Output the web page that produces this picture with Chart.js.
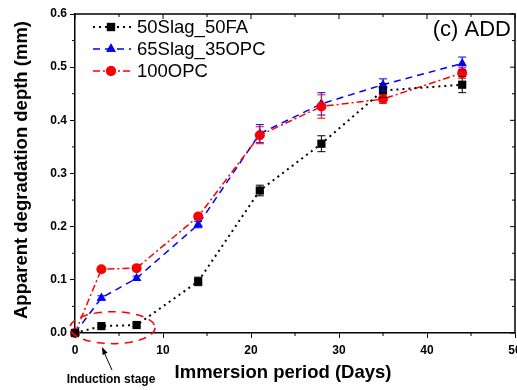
<!DOCTYPE html>
<html>
<head>
<meta charset="utf-8">
<script src="https://cdn.jsdelivr.net/npm/chart.js@4/dist/chart.umd.min.js"></script>
<style>
  body { margin: 0; background: #fff; }
  canvas { display: block; }
</style>
</head>
<body>
<canvas id="depth" width="517" height="390"></canvas>
<script>
const FONT = 'Arial, "Liberation Sans", sans-serif';

// immersion days and degradation depths (mm)
const days = [0, 3, 7, 14, 21, 28, 35, 44];
const slagFA = [0, 0.013, 0.015, 0.097, 0.268, 0.356, 0.456, 0.467];
const slagFAErr = [0, 0.003, 0.003, 0.008, 0.010, 0.015, 0.013, 0.015];
const slagOPC = [0, 0.066, 0.103, 0.204, 0.375, 0.431, 0.467, 0.507];
const slagOPCErr = [0, 0.004, 0.004, 0.006, 0.017, 0.021, 0.011, 0.012];
const opc = [0, 0.120, 0.122, 0.219, 0.372, 0.426, 0.440, 0.489];
const opcErr = [0, 0.003, 0.003, 0.005, 0.016, 0.022, 0.008, 0.010];

const seriesNames = ['50Slag_50FA', '65Slag_35OPC', '100OPC'];
const xTicks = [0, 10, 20, 30, 40, 50];
const yTicks = [0, 0.1, 0.2, 0.3, 0.4, 0.5, 0.6];

const pts = (ys) => days.map((d, i) => ({x: d, y: ys[i]}));

const series = [
  {label: seriesNames[0], ys: slagFA, err: slagFAErr, color: '#000000', style: 'rect', radius: 5.8, dash: [2, 4], width: 2, order: 0},
  {label: seriesNames[1], ys: slagOPC, err: slagOPCErr, color: '#0000ff', style: 'triangle', radius: 5.5, dash: [7, 5], width: 1.5, order: 2},
  {label: seriesNames[2], ys: opc, err: opcErr, color: '#ff0000', style: 'circle', radius: 5, dash: [7, 3, 2, 3], width: 1.5, order: 1}
];

const extras = {
  id: 'extras',
  afterDraw(chart) {
    const ctx = chart.ctx;
    const a = chart.chartArea;
    const xs = chart.scales.x, ys = chart.scales.y;
    ctx.save();

    // error bars
    series.forEach(s => {
      ctx.strokeStyle = s.color;
      ctx.lineWidth = 1;
      days.forEach((d, i) => {
        if (!s.err[i]) return;
        const px = xs.getPixelForValue(d);
        const t = ys.getPixelForValue(s.ys[i] + s.err[i]);
        const b = ys.getPixelForValue(s.ys[i] - s.err[i]);
        ctx.beginPath();
        ctx.moveTo(px, t); ctx.lineTo(px, b);
        ctx.moveTo(px - 4, t); ctx.lineTo(px + 4, t);
        ctx.moveTo(px - 4, b); ctx.lineTo(px + 4, b);
        ctx.stroke();
      });
    });

    // frame top/right
    ctx.strokeStyle = '#000';
    ctx.lineWidth = 1.5;
    ctx.beginPath();
    ctx.moveTo(a.left, a.top); ctx.lineTo(a.right, a.top); ctx.lineTo(a.right, a.bottom);
    ctx.stroke();

    // ticks on top/right (inward) + minor ticks
    ctx.lineWidth = 1;
    ctx.beginPath();
    for (let v = 0; v <= 50; v += 5) {
      const px = xs.getPixelForValue(v);
      const len = v % 10 === 0 ? 5 : 3;
      ctx.moveTo(px, a.top); ctx.lineTo(px, a.top + len);
      if (v % 10 !== 0) { ctx.moveTo(px, a.bottom); ctx.lineTo(px, a.bottom + 3); }
    }
    for (let k = 0; k <= 12; k++) {
      const v = k * 0.05;
      const py = ys.getPixelForValue(v);
      const len = k % 2 === 0 ? 5 : 3;
      ctx.moveTo(a.right, py); ctx.lineTo(a.right - len, py);
      if (k % 2 !== 0) { ctx.moveTo(a.left, py); ctx.lineTo(a.left - 3, py); }
    }
    ctx.stroke();

    // legend
    ctx.textBaseline = 'middle';
    ctx.font = '18.5px ' + FONT;
    series.forEach((s, i) => {
      const y = 27 + i * 22;
      ctx.strokeStyle = s.color;
      ctx.lineWidth = s.width;
      ctx.setLineDash(s.dash);
      ctx.beginPath();
      ctx.moveTo(93, y); ctx.lineTo(131, y);
      ctx.stroke();
      ctx.setLineDash([]);
      ctx.fillStyle = s.color;
      Chart.helpers.drawPoint(ctx, {pointStyle: s.style, radius: s.radius, borderWidth: 0}, 111, y);
      ctx.fill();
      ctx.fillStyle = '#000';
      ctx.textAlign = 'left';
      ctx.fillText(s.label, 137, y + 1);
    });

    // panel label
    ctx.font = '22px ' + FONT;
    ctx.textAlign = 'right';
    ctx.fillText('(c) ADD', 511, 30);

    // axis titles
    ctx.font = 'bold 18.5px ' + FONT;
    ctx.textAlign = 'center';
    ctx.fillText('Immersion period (Days)', 283, 373);
    ctx.save();
    ctx.translate(22, 170);
    ctx.rotate(-Math.PI / 2);
    ctx.fillText('Apparent degradation depth (mm)', 0, 0);
    ctx.restore();

    // induction stage annotation
    const cx = xs.getPixelForValue(4.26), cy = ys.getPixelForValue(0.010);
    const rx = xs.getPixelForValue(4.83) - xs.getPixelForValue(0);
    const ry = ys.getPixelForValue(0) - ys.getPixelForValue(0.030);
    ctx.strokeStyle = '#ff0000';
    ctx.lineWidth = 1.5;
    ctx.setLineDash([8, 6]);
    ctx.beginPath();
    ctx.ellipse(cx, cy, rx, ry, 0, 0, Math.PI * 2);
    ctx.stroke();
    ctx.setLineDash([]);

    ctx.strokeStyle = '#000';
    ctx.fillStyle = '#000';
    ctx.lineWidth = 1;
    ctx.beginPath();
    ctx.moveTo(112, 370); ctx.lineTo(103, 350);
    ctx.stroke();
    const ang = Math.atan2(350 - 370, 103 - 112);
    ctx.beginPath();
    ctx.moveTo(102, 347);
    ctx.lineTo(102 - 8 * Math.cos(ang - 0.35), 347 - 8 * Math.sin(ang - 0.35));
    ctx.lineTo(102 - 8 * Math.cos(ang + 0.35), 347 - 8 * Math.sin(ang + 0.35));
    ctx.closePath();
    ctx.fill();

    ctx.font = 'bold 12px ' + FONT;
    ctx.textAlign = 'center';
    ctx.fillText('Induction stage', 111, 380);
    ctx.restore();
  }
};

new Chart(document.getElementById('depth').getContext('2d'), {
  type: 'line',
  data: {
    datasets: series.map(s => ({
      label: s.label,
      data: pts(s.ys),
      borderColor: s.color,
      backgroundColor: s.color,
      borderWidth: s.width,
      borderDash: s.dash,
      pointStyle: s.style,
      pointRadius: s.radius,
      pointBorderWidth: 0,
      pointBackgroundColor: s.color,
      tension: 0,
      fill: false,
      clip: false,
      order: s.order
    }))
  },
  options: {
    responsive: false,
    animation: false,
    devicePixelRatio: 1,
    layout: {autoPadding: false, padding: {top: 14, right: 2, left: 0, bottom: 0}},
    scales: {
      x: {
        type: 'linear', min: 0, max: 50,
        afterBuildTicks: s => { s.ticks = xTicks.map(v => ({value: v})); },
        ticks: {color: '#000', font: {family: FONT, size: 12, weight: 'bold'}, padding: 5, maxRotation: 0},
        grid: {drawOnChartArea: false, drawTicks: true, tickLength: 5, color: '#000', lineWidth: 1},
        border: {display: true, color: '#000', width: 1.5},
        afterFit: s => { s.height = 57; s.paddingLeft = 0; s.paddingRight = 0; }
      },
      y: {
        min: 0, max: 0.6,
        afterBuildTicks: s => { s.ticks = yTicks.map(v => ({value: v})); },
        ticks: {color: '#000', font: {family: FONT, size: 12, weight: 'bold'}, padding: 3, callback: v => v.toFixed(1)},
        grid: {drawOnChartArea: false, drawTicks: true, tickLength: 5, color: '#000', lineWidth: 1},
        border: {display: true, color: '#000', width: 1.5},
        afterFit: s => { s.width = 75; s.paddingTop = 0; s.paddingBottom = 0; }
      }
    },
    plugins: {legend: {display: false}, tooltip: {enabled: false}}
  },
  plugins: [extras]
});
</script>
</body>
</html>
